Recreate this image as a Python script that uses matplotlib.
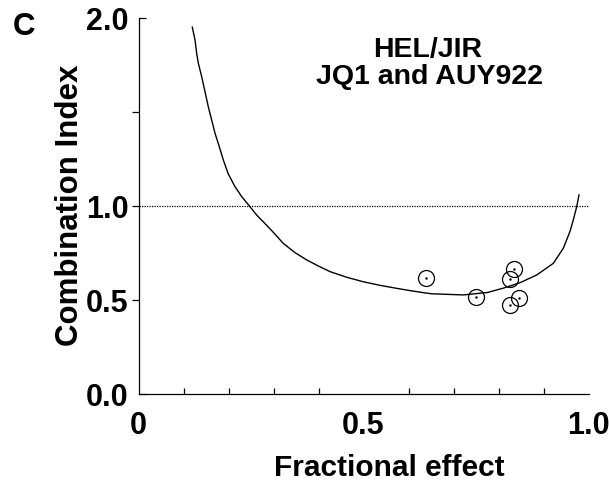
import matplotlib
matplotlib.use("Agg")
import matplotlib.pyplot as plt
from matplotlib.ticker import FixedLocator, FixedFormatter

# Fitted Fa-CI curve
curve_fa = [0.1196, 0.1256, 0.1293, 0.1330, 0.1404, 0.1478, 0.1551, 0.1626, 0.170,
            0.1796, 0.1884, 0.1996, 0.2144, 0.2293, 0.2478, 0.2626, 0.2773, 0.2996,
            0.3218, 0.3478, 0.3738, 0.3996, 0.4256, 0.4626, 0.4996, 0.5367, 0.5738,
            0.6033, 0.6329, 0.6516, 0.7218, 0.7756, 0.8107, 0.8478, 0.8849, 0.9218,
            0.944, 0.9589, 0.9662, 0.9738, 0.9789]
curve_ci = [1.951, 1.883, 1.812, 1.759, 1.688, 1.608, 1.528, 1.457, 1.387,
            1.315, 1.245, 1.170, 1.103, 1.050, 0.996, 0.952, 0.916, 0.860,
            0.801, 0.752, 0.713, 0.681, 0.651, 0.621, 0.597, 0.578, 0.562,
            0.550, 0.539, 0.533, 0.527, 0.540, 0.563, 0.592, 0.633, 0.695,
            0.775, 0.865, 0.926, 0.996, 1.059]

# Experimental data points
pts_fa = [0.638, 0.750, 0.835, 0.826, 0.846, 0.826]
pts_ci = [0.619, 0.518, 0.663, 0.610, 0.509, 0.472]

x_tick_labels = ["0", "0.5", "1.0"]
y_tick_labels = ["0.5", "1.0", ""]
y_edge_labels = ["0.0", "2.0"]

plt.rcParams['font.family'] = ['Liberation Sans', 'DejaVu Sans']
plt.rcParams['font.weight'] = 'bold'

W, H = 609, 483
fig = plt.figure(figsize=(W / 100, H / 100), dpi=100)
ax = fig.add_axes([138.5 / W, (H - 394) / H, 450 / W, 376 / H])

ax.plot(curve_fa, curve_ci, color='black', lw=1.0, zorder=3)
ax.axhline(1.0, color='black', lw=0.9, ls=(0, (1, 1)), zorder=2)
ax.plot(pts_fa, pts_ci, ls='none', marker='o', ms=11.5, mfc='none',
        mec='black', mew=0.9, zorder=4)
ax.plot(pts_fa, pts_ci, ls='none', marker='.', ms=1.5, color='black', zorder=5)

ax.set_xlim(0, 1.0)
ax.set_ylim(0, 2.0)

for s in ['top', 'right']:
    ax.spines[s].set_visible(False)
for s in ['left', 'bottom']:
    ax.spines[s].set_linewidth(0.9)

# x ticks: minor every 0.1 pointing in, labels at 0, 0.5, 1.0
ax.xaxis.set_major_locator(FixedLocator([0, 0.5, 1.0]))
ax.xaxis.set_major_formatter(FixedFormatter(x_tick_labels))
ax.xaxis.set_minor_locator(FixedLocator([i / 10 for i in range(1, 11)]))
ax.tick_params(axis='x', which='major', length=0, pad=12, labelsize=22)
ax.tick_params(axis='x', which='minor', direction='in', length=4, width=0.9)

# y ticks: interior ones outward, the end ones inward
ax.yaxis.set_major_locator(FixedLocator([0.5, 1.0, 1.5]))
ax.yaxis.set_major_formatter(FixedFormatter(y_tick_labels))
ax.yaxis.set_minor_locator(FixedLocator([0.0, 2.0]))
ax.yaxis.set_minor_formatter(FixedFormatter(y_edge_labels))
ax.tick_params(axis='y', which='major', direction='out', length=5, width=0.9,
               pad=2, labelsize=22)
ax.tick_params(axis='y', which='minor', direction='in', length=5, width=0.9,
               pad=7, labelsize=22)

fig.text(78 / W, 1 - 205 / H, "Combination Index", rotation=90, ha='center',
         va='baseline', rotation_mode='anchor', fontsize=22.5, fontweight='bold')
fig.text(389 / W, 1 - 476.5 / H, "Fractional effect", ha='center', va='baseline',
         fontsize=21.5, fontweight='bold')
fig.text(428 / W, 1 - 57 / H, "HEL/JIR", ha='center', va='baseline',
         fontsize=20.5, fontweight='bold')
fig.text(429 / W, 1 - 84 / H, "JQ1 and AUY922", ha='center', va='baseline',
         fontsize=20.5, fontweight='bold')
fig.text(23.5 / W, 1 - 35 / H, "C", ha='center', va='baseline', fontsize=22.5,
         fontweight='bold')

fig.savefig("out.png", dpi=100)
